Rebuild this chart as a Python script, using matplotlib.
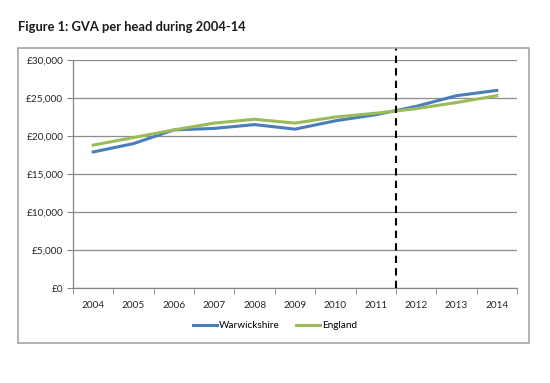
import matplotlib.pyplot as plt
import numpy as np
from matplotlib.patches import Rectangle

years = ['2004', '2005', '2006', '2007', '2008', '2009', '2010', '2011', '2012', '2013', '2014']
warwickshire = [17900, 19000, 20800, 21000, 21500, 20900, 22000, 22800, 23900, 25300, 26000]
england = [18800, 19800, 20800, 21700, 22200, 21700, 22500, 23000, 23600, 24400, 25300]
yticks = [0, 5000, 10000, 15000, 20000, 25000, 30000]
ytick_labels = ['£0', '£5,000', '£10,000', '£15,000', '£20,000', '£25,000', '£30,000']

plt.rcParams['font.family'] = ['Lato', 'DejaVu Sans']

fig = plt.figure(figsize=(5.5, 3.83), dpi=100)
fig.patch.set_facecolor('white')

# chart frame
fig.patches.append(Rectangle((18 / 550, 1 - 343 / 383), 511 / 550, 295 / 383,
                             transform=fig.transFigure, fill=False,
                             edgecolor='#a6a6a6', linewidth=1.2))

fig.text(18 / 550, 1 - 27 / 383, 'Figure 1: GVA per head during 2004-14',
         fontsize=9.3, fontweight='bold', va='center', ha='left', color='#1a1a1a')

ax = fig.add_axes([73 / 550, 1 - 288 / 383, 444 / 550, 228 / 383])
x = np.arange(len(years))
ax.plot(x, warwickshire, color='#4A7EBB', linewidth=2.2, label='Warwickshire')
ax.plot(x, england, color='#9BBB59', linewidth=2.2, label='England')

ax.set_xlim(-0.5, len(years) - 0.5)
ax.set_ylim(0, 30000)
ax.set_yticks(yticks)
ax.set_yticklabels(ytick_labels)
ax.set_xticks(x)
ax.set_xticklabels(years)
ax.set_xticks(np.arange(-0.5, len(years)), minor=True)
ax.tick_params(axis='x', which='major', length=0, pad=9)
ax.tick_params(axis='x', which='minor', length=4, color='#868686')
ax.tick_params(axis='y', length=4, color='#868686', pad=3)
ax.tick_params(labelsize=7.2, labelcolor='#262626')

ax.grid(axis='y', color='#8c8c8c', linewidth=0.9)
ax.set_axisbelow(True)
for s in ['top', 'right']:
    ax.spines[s].set_visible(False)
for s in ['left', 'bottom']:
    ax.spines[s].set_color('#868686')
    ax.spines[s].set_linewidth(0.9)

# forecast divider
ax.axvline(7.5, ymin=0, ymax=1.053, color='black', linestyle=(0, (3.5, 2.5)),
           linewidth=1.5, clip_on=False, zorder=5)

ax.legend(loc='center', bbox_to_anchor=(0.5, 1 - 326 / 383), bbox_transform=fig.transFigure,
          ncol=2, frameon=False, fontsize=7.2, handlelength=2.4, handletextpad=0.2,
          columnspacing=1.6)

fig.savefig('out.png', dpi=100)
